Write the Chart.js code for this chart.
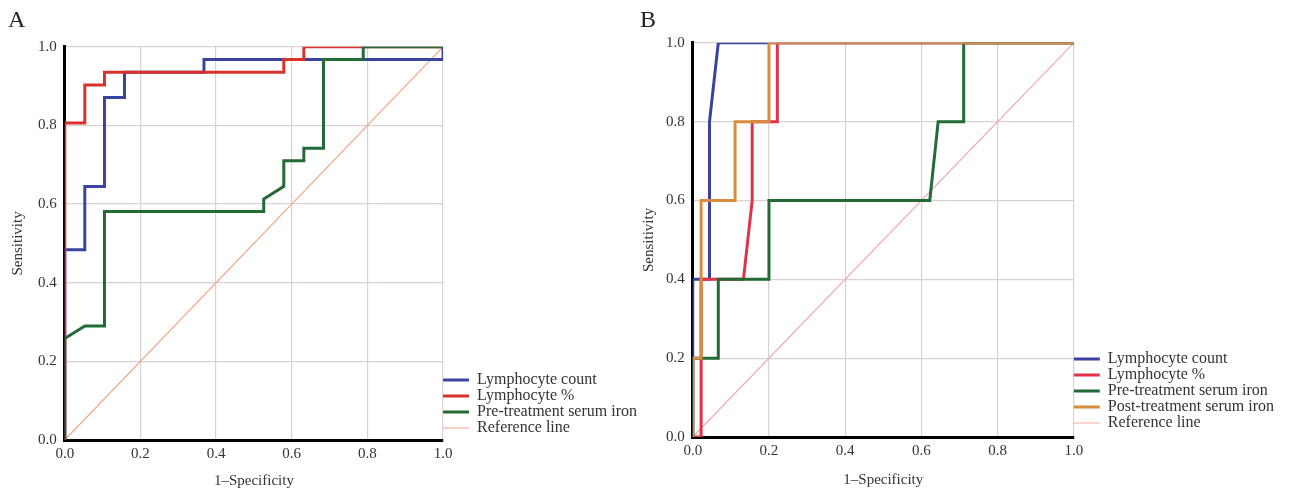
<!DOCTYPE html>
<html>
<head>
<meta charset="utf-8">
<script src="https://cdn.jsdelivr.net/npm/chart.js@4.4.1/dist/chart.umd.min.js"></script>
<style>
  body { margin: 0; background: #fff; }
  #wrap { position: relative; width: 1291px; height: 493px; }
  #chartA { position: absolute; left: 0; top: 0; }
  #chartB { position: absolute; left: 640px; top: 0; }
</style>
</head>
<body>
<div id="wrap">
  <canvas id="chartA" width="647" height="493"></canvas>
  <canvas id="chartB" width="644" height="493"></canvas>
</div>
<script>
// Panel A: 1-specificity (x) and sensitivity (y) for each ROC curve
const aCountX = [0, 0, 0.053, 0.053, 0.105, 0.105, 0.158, 0.158, 0.368, 0.368, 1, 1];
const aCountY = [0, 0.484, 0.484, 0.645, 0.645, 0.871, 0.871, 0.935, 0.935, 0.968, 0.968, 1];
const aPctX = [0, 0, 0.053, 0.053, 0.105, 0.105, 0.579, 0.579, 0.632, 0.632, 1];
const aPctY = [0, 0.806, 0.806, 0.903, 0.903, 0.935, 0.935, 0.968, 0.968, 1, 1];
const aPreX = [0, 0, 0.053, 0.105, 0.105, 0.526, 0.526, 0.579, 0.579, 0.632, 0.632, 0.684, 0.684, 0.789, 0.789, 1];
const aPreY = [0, 0.258, 0.29, 0.29, 0.581, 0.581, 0.613, 0.645, 0.71, 0.71, 0.742, 0.742, 0.968, 0.968, 1, 1];

// Panel B
const bCountX = [0, 0, 0.044, 0.044, 0.067, 1];
const bCountY = [0, 0.4, 0.4, 0.8, 1, 1];
const bPctX = [0, 0.022, 0.022, 0.133, 0.156, 0.156, 0.222, 0.222, 1];
const bPctY = [0, 0, 0.4, 0.4, 0.6, 0.8, 0.8, 1, 1];
const bPreX = [0, 0, 0.067, 0.067, 0.2, 0.2, 0.622, 0.644, 0.711, 0.711, 1];
const bPreY = [0, 0.2, 0.2, 0.4, 0.4, 0.6, 0.6, 0.8, 0.8, 1, 1];
const bPostX = [0, 0, 0.022, 0.022, 0.111, 0.111, 0.2, 0.2, 1];
const bPostY = [0, 0.2, 0.2, 0.6, 0.6, 0.8, 0.8, 1, 1];

const refX = [0, 1];
const refY = [0, 1];
const tickValues = [0, 0.2, 0.4, 0.6, 0.8, 1.0];

const serif = "'Liberation Serif', 'DejaVu Serif', serif";

function pts(xs, ys) {
  return xs.map((x, i) => ({ x: x, y: ys[i] }));
}

function curve(label, xs, ys, color, width, order) {
  return {
    label: label,
    data: pts(xs, ys),
    borderColor: color,
    backgroundColor: color,
    borderWidth: width,
    pointRadius: 0,
    showLine: true,
    tension: 0,
    borderJoinStyle: 'miter',
    order: order
  };
}

function axis(title, tickPad, titlePad) {
  return {
    type: 'linear',
    min: 0,
    max: 1,
    afterBuildTicks: s => { s.ticks = tickValues.map(v => ({ value: v })); },
    grid: { color: '#d9d2d2', lineWidth: 1.2, drawTicks: false },
    border: { color: '#000', width: 3 },
    ticks: {
      color: '#333',
      font: { family: serif, size: 15 },
      padding: tickPad,
      callback: v => v.toFixed(1)
    },
    title: {
      display: true,
      text: title,
      color: '#333',
      font: { family: serif, size: 15 },
      padding: titlePad
    }
  };
}

// nudges the legend block up so it sits a little above the x axis
function legendShift(off) {
  return {
    id: 'legendShift',
    afterLayout(chart) {
      chart.legend.top -= off;
      chart.legend.bottom -= off;
    }
  };
}

function makeChart(id, letter, datasets, cfg) {
  return new Chart(document.getElementById(id), {
    type: 'scatter',
    data: { datasets: datasets },
    plugins: [legendShift(cfg.legendOff)],
    options: {
      responsive: false,
      animation: false,
      layout: { padding: cfg.pad },
      scales: {
        x: axis('1\u2013Specificity', 5, cfg.xTitlePad),
        y: axis('Sensitivity', 8, cfg.yTitlePad)
      },
      plugins: {
        tooltip: { enabled: false },
        title: {
          display: true,
          text: letter,
          align: 'start',
          color: '#222',
          font: { family: serif, size: 24, weight: 'normal' },
          padding: { top: 6, bottom: cfg.topGap }
        },
        legend: {
          position: 'right',
          align: 'end',
          fullSize: false,
          maxWidth: 260,
          labels: {
            color: '#333',
            font: { family: serif, size: 16 },
            usePointStyle: true,
            pointStyle: 'line',
            pointStyleWidth: 26,
            padding: 0,
            sort: (a, b) => a.datasetIndex - b.datasetIndex
          }
        }
      }
    }
  });
}

makeChart('chartA', 'A', [
  curve('Lymphocyte count', aCountX, aCountY, '#3a44a0', 3, 3),
  curve('Lymphocyte %', aPctX, aPctY, '#d8322c', 3, 2),
  curve('Pre-treatment serum iron', aPreX, aPreY, '#226b36', 3, 1),
  curve('Reference line', refX, refY, '#f3a683', 1.2, 4)
], {
  pad: { left: 8, right: 0, top: 0, bottom: 3 },
  xTitlePad: { top: 4, bottom: 0 },
  yTitlePad: { top: 1, bottom: 3 },
  topGap: 12,
  legendOff: 4
});

makeChart('chartB', 'B', [
  curve('Lymphocyte count', bCountX, bCountY, '#3a44a0', 3, 4),
  curve('Lymphocyte %', bPctX, bPctY, '#e0334a', 3, 3),
  curve('Pre-treatment serum iron', bPreX, bPreY, '#226b36', 3, 2),
  curve('Post-treatment serum iron', bPostX, bPostY, '#d98c3d', 3, 1),
  curve('Reference line', refX, refY, '#f2a9a6', 1.2, 5)
], {
  pad: { left: 0, right: 0, top: 0, bottom: 4 },
  xTitlePad: { top: 6, bottom: 0 },
  yTitlePad: { top: 0, bottom: 0 },
  topGap: 8,
  legendOff: 6
});
</script>
</body>
</html>
